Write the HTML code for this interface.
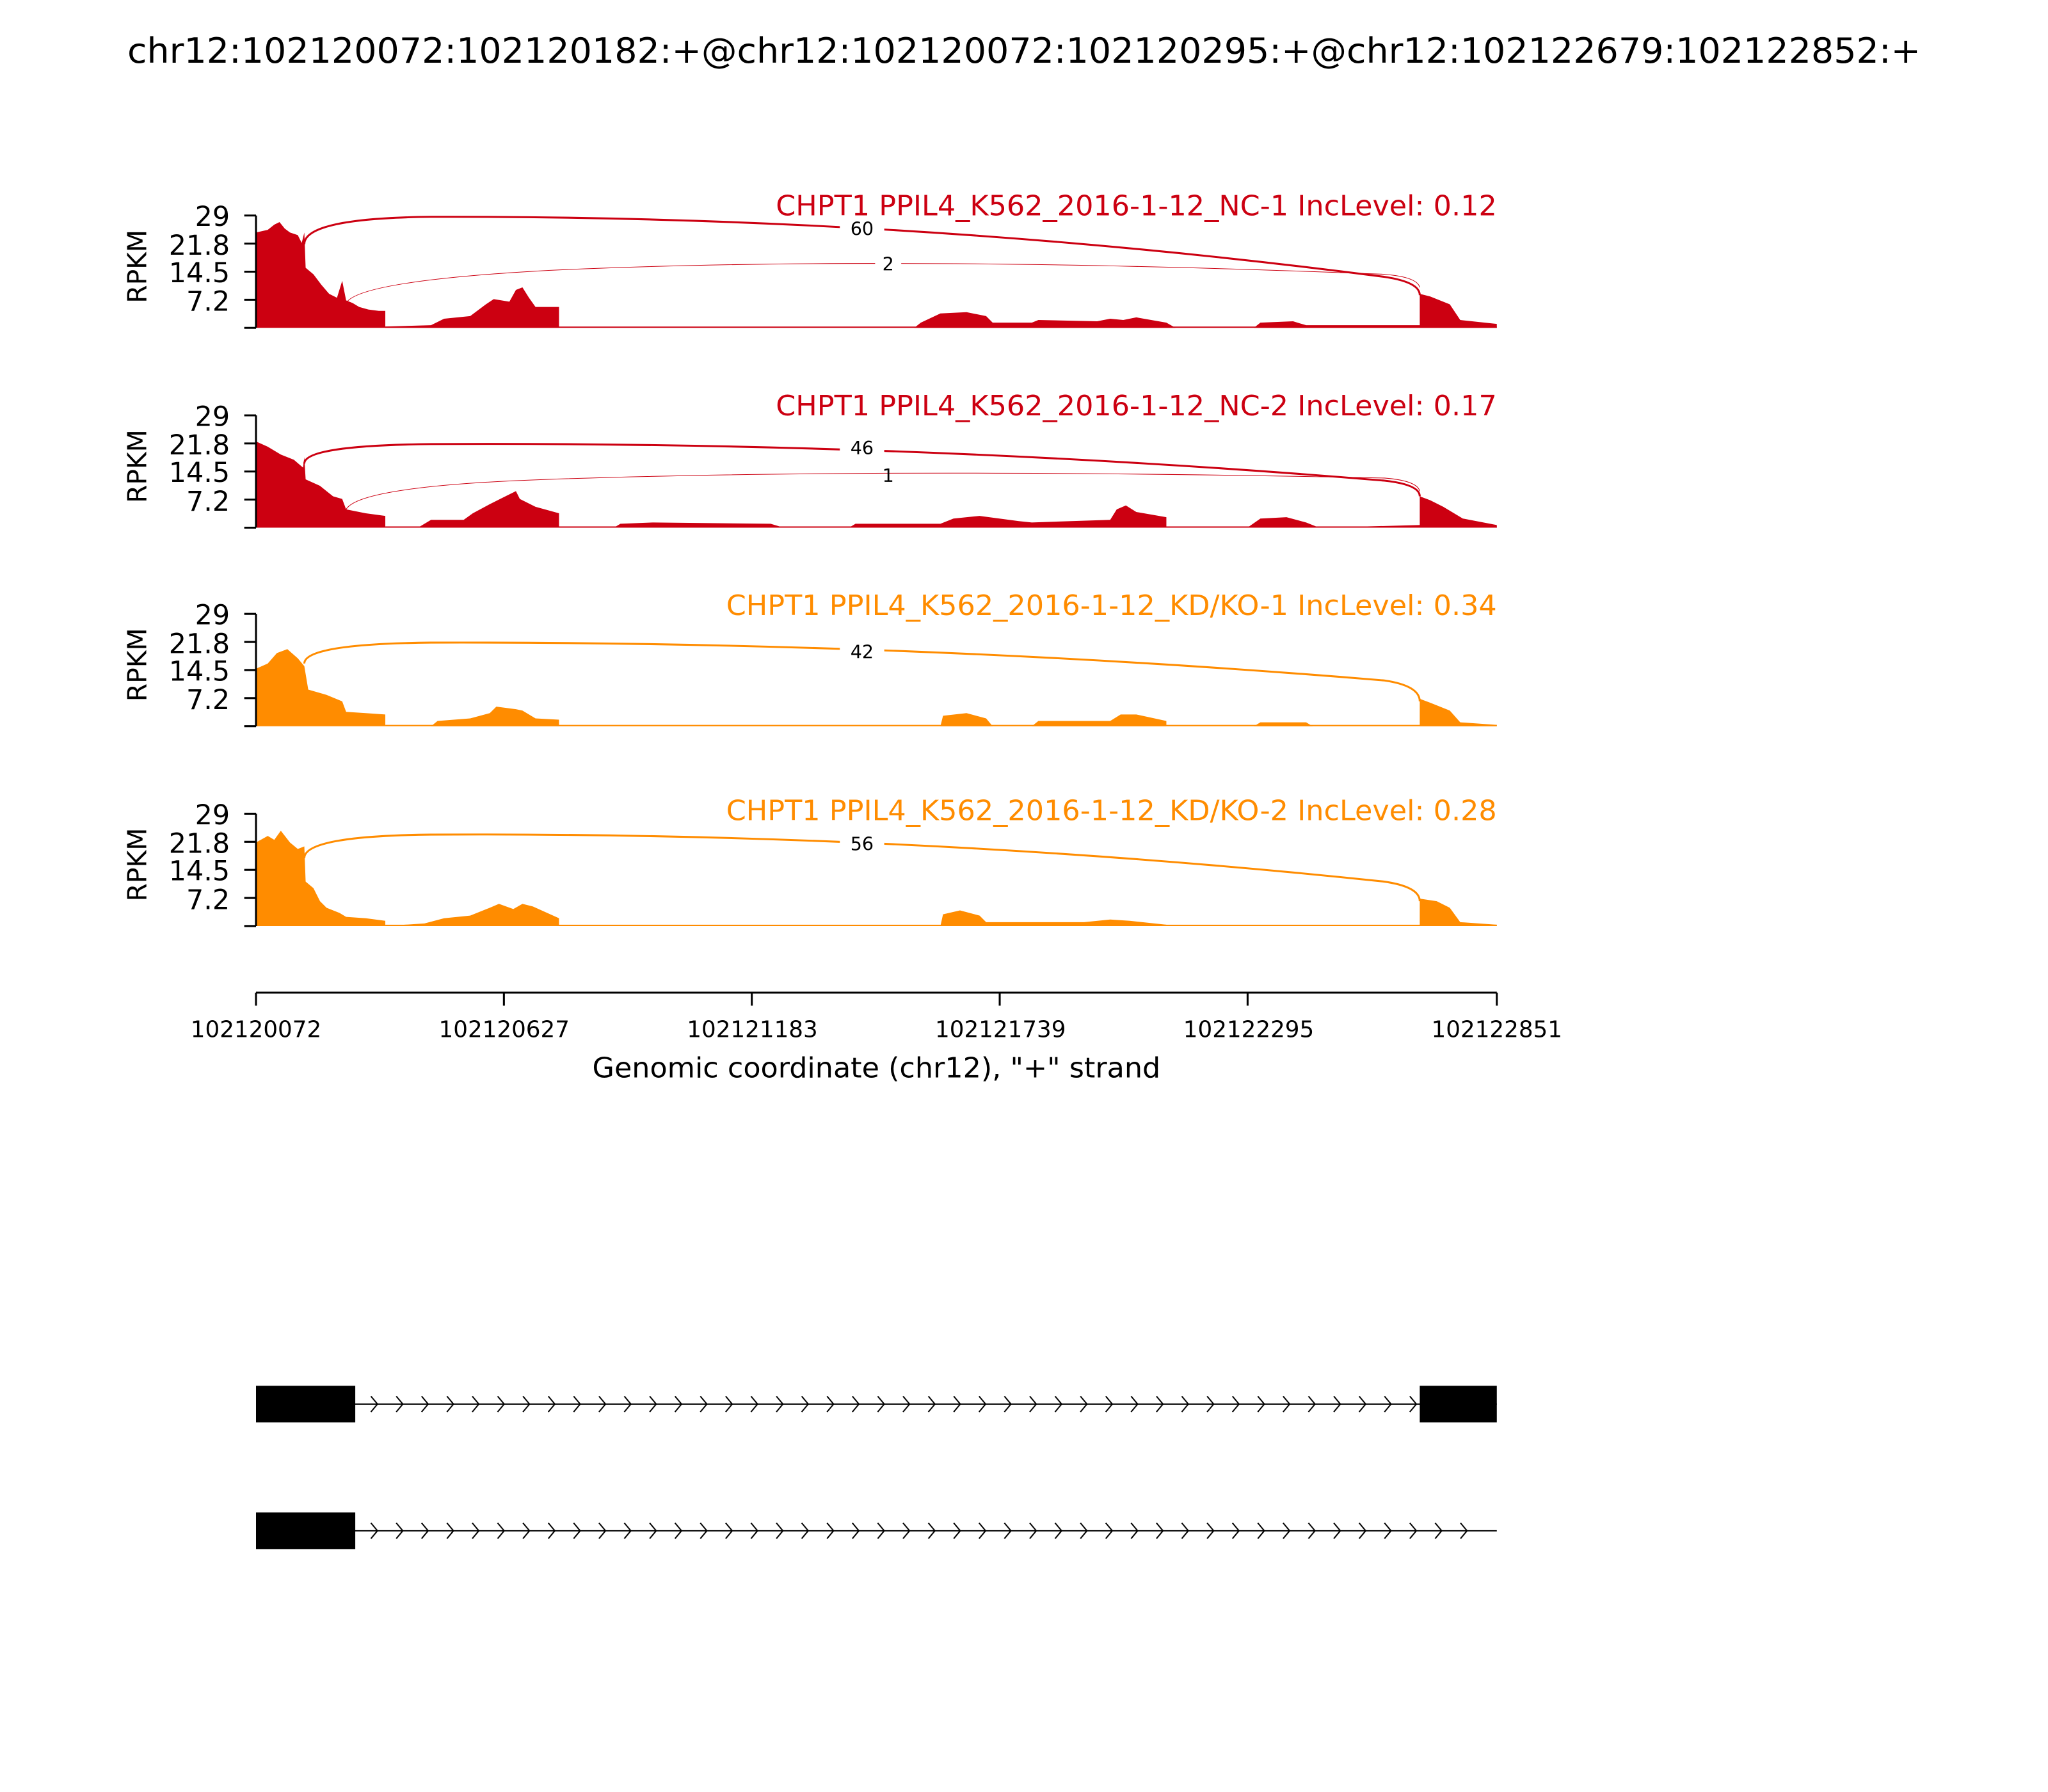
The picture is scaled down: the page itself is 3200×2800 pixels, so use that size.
<!DOCTYPE html>
<html><head><meta charset="utf-8"><style>html,body{margin:0;padding:0;background:#fff}svg{display:block}text{font-family:"DejaVu Sans","Liberation Sans",sans-serif}</style></head>
<body>
<svg width="3200" height="2800" viewBox="0 0 1568 1372" xmlns="http://www.w3.org/2000/svg">
<defs>
<pattern id="chev" x="280" y="0" width="19.4" height="1372" patternUnits="userSpaceOnUse">
<path d="M4,1069 L9,1075 L4,1081 M4,1166 L9,1172 L4,1178" stroke="#000" stroke-width="1" fill="none"/>
</pattern>
</defs>
<text x="784" y="48" font-size="26.5" text-anchor="middle" textLength="1373" lengthAdjust="spacingAndGlyphs">chr12:102120072:102120182:+@chr12:102120072:102120295:+@chr12:102122679:102122852:+</text>

<!-- Panel 1 -->
<g>
<polygon fill="#CC0011" points="196,251 196,178 205,176 210,172 214,170 218,175 222,178 228,180 231,186 233,178 234,205 240,210 246,218 252,225 258,228 262,215 265,230 270,232 275,235 282,237 290,238 295,238 295,250 330,249 340,244 360,242 372,233 378,229 390,231 395,222 400,220 405,228 410,235 428,235 428,251 700,251 705,247 720,240 740,239 755,242 760,247 790,247 795,245 840,246 850,244 860,245 870,243 893,247 900,251 960,251 965,247 990,246 1000,249 1087,249 1087,225 1095,227 1110,233 1118,245 1146,248 1146,251"/>
<line x1="295" y1="250.5" x2="1146" y2="250.5" stroke="#CC0011" stroke-width="1"/>
<path d="M233,187 Q233,167 330,166 Q700,165 1060,212 Q1087,216 1087,226" stroke="#CC0011" stroke-width="1.5" fill="none"/>
<path d="M265,232 Q275,215 420,207 Q680,195 1060,210 Q1085,212 1087,220" stroke="#CC0011" stroke-width="0.5" fill="none"/>
<rect x="643" y="166" width="34" height="17" fill="#fff"/><text x="660" y="180" font-size="14" text-anchor="middle">60</text>
<rect x="670" y="194" width="20" height="15" fill="#fff"/><text x="680" y="207" font-size="14" text-anchor="middle">2</text>
<text x="1146" y="165" font-size="21.5" fill="#CC0011" text-anchor="end" textLength="552" lengthAdjust="spacingAndGlyphs">CHPT1 PPIL4_K562_2016-1-12_NC-1 IncLevel: 0.12</text>
<path d="M196,165 V251 M187,165 H196 M187,186.5 H196 M187,208 H196 M187,229.5 H196 M187,251 H196" stroke="#000" stroke-width="1.5" fill="none"/>
<g font-size="21" text-anchor="end"><text x="176" y="173">29</text><text x="176" y="195">21.8</text><text x="176" y="216">14.5</text><text x="176" y="238">7.2</text></g>
<text transform="translate(112,204) rotate(-90)" font-size="20" text-anchor="middle">RPKM</text>
</g>

<!-- Panel 2 -->
<g>
<polygon fill="#CC0011" points="196,404 196,338 205,342 215,348 225,352 232,358 233,350 234,367 245,372 255,380 262,382 265,390 280,393 295,395 295,404 320,404 330,398 355,398 362,393 375,386 385,381 395,376 398,382 410,388 428,393 428,404 470,404 475,401 500,400 590,401 600,404 650,404 655,401 720,401 730,397 750,395 780,399 790,400 850,398 855,390 862,387 870,392 893,396 893,404 955,404 965,397 985,396 1000,400 1010,404 1087,402 1087,380 1095,383 1105,388 1120,397 1146,402 1146,404"/>
<line x1="295" y1="403.5" x2="1146" y2="403.5" stroke="#CC0011" stroke-width="1"/>
<path d="M233,355 Q233,341 330,340 Q700,338 1060,368 Q1087,371 1087,380" stroke="#CC0011" stroke-width="1.5" fill="none"/>
<path d="M265,390 Q275,372 420,367 Q680,358 1060,366 Q1085,368 1087,376" stroke="#CC0011" stroke-width="0.5" fill="none"/>
<rect x="643" y="334" width="34" height="17" fill="#fff"/><text x="660" y="348" font-size="14" text-anchor="middle">46</text>
<text x="680" y="369" font-size="14" text-anchor="middle">1</text>
<text x="1146" y="318" font-size="21.5" fill="#CC0011" text-anchor="end" textLength="552" lengthAdjust="spacingAndGlyphs">CHPT1 PPIL4_K562_2016-1-12_NC-2 IncLevel: 0.17</text>
<path d="M196,318 V404 M187,318 H196 M187,339.5 H196 M187,361 H196 M187,382.5 H196 M187,404 H196" stroke="#000" stroke-width="1.5" fill="none"/>
<g font-size="21" text-anchor="end"><text x="176" y="326">29</text><text x="176" y="348">21.8</text><text x="176" y="369">14.5</text><text x="176" y="391">7.2</text></g>
<text transform="translate(112,357) rotate(-90)" font-size="20" text-anchor="middle">RPKM</text>
</g>

<!-- Panel 3 -->
<g>
<polygon fill="#FF8C00" points="196,556 196,512 205,508 212,500 220,497 228,504 233,510 236,528 250,532 262,537 265,545 280,546 295,547 295,556 330,556 335,552 360,550 375,546 380,541 395,543 400,544 410,550 428,551 428,556 720,556 722,548 740,546 755,550 760,556 790,556 795,552 850,552 858,547 870,547 893,552 893,556 960,556 965,553 1000,553 1005,556 1087,556 1087,535 1095,538 1110,544 1118,553 1146,555 1146,556"/>
<line x1="295" y1="555.5" x2="1146" y2="555.5" stroke="#FF8C00" stroke-width="1"/>
<path d="M233,508 Q233,493 330,492 Q700,491 1060,521 Q1087,525 1087,537" stroke="#FF8C00" stroke-width="1.5" fill="none"/>
<rect x="643" y="490" width="34" height="17" fill="#fff"/><text x="660" y="504" font-size="14" text-anchor="middle">42</text>
<text x="1146" y="471" font-size="21.5" fill="#FF8C00" text-anchor="end" textLength="590" lengthAdjust="spacingAndGlyphs">CHPT1 PPIL4_K562_2016-1-12_KD/KO-1 IncLevel: 0.34</text>
<path d="M196,470 V556 M187,470 H196 M187,491.5 H196 M187,513 H196 M187,534.5 H196 M187,556 H196" stroke="#000" stroke-width="1.5" fill="none"/>
<g font-size="21" text-anchor="end"><text x="176" y="478">29</text><text x="176" y="500">21.8</text><text x="176" y="521">14.5</text><text x="176" y="543">7.2</text></g>
<text transform="translate(112,509) rotate(-90)" font-size="20" text-anchor="middle">RPKM</text>
</g>

<!-- Panel 4 -->
<g>
<polygon fill="#FF8C00" points="196,709 196,645 205,640 210,643 215,636 222,645 228,650 233,648 234,675 240,680 245,690 250,695 260,699 265,702 280,703 295,705 295,709 325,707 340,703 360,701 375,695 382,692 393,696 400,692 408,694 428,703 428,709 720,709 722,700 735,697 750,701 755,706 790,706 830,706 850,704 865,705 893,708 893,709 1087,709 1087,688 1100,690 1110,695 1118,706 1146,708 1146,709"/>
<line x1="295" y1="708.5" x2="1146" y2="708.5" stroke="#FF8C00" stroke-width="1"/>
<path d="M233,657 Q233,640 330,639 Q700,637 1060,675 Q1087,679 1087,690" stroke="#FF8C00" stroke-width="1.5" fill="none"/>
<rect x="643" y="637" width="34" height="17" fill="#fff"/><text x="660" y="651" font-size="14" text-anchor="middle">56</text>
<text x="1146" y="628" font-size="21.5" fill="#FF8C00" text-anchor="end" textLength="590" lengthAdjust="spacingAndGlyphs">CHPT1 PPIL4_K562_2016-1-12_KD/KO-2 IncLevel: 0.28</text>
<path d="M196,623 V709 M187,623 H196 M187,644.5 H196 M187,666 H196 M187,687.5 H196 M187,709 H196" stroke="#000" stroke-width="1.5" fill="none"/>
<g font-size="21" text-anchor="end"><text x="176" y="631">29</text><text x="176" y="653">21.8</text><text x="176" y="674">14.5</text><text x="176" y="696">7.2</text></g>
<text transform="translate(112,662) rotate(-90)" font-size="20" text-anchor="middle">RPKM</text>
</g>

<!-- X axis -->
<path d="M196,760 H1146 M196,760 V770 M385.8,760 V770 M575.6,760 V770 M765.4,760 V770 M955.2,760 V770 M1146,760 V770" stroke="#000" stroke-width="1.5" fill="none"/>
<g font-size="17.5" text-anchor="middle"><text x="196" y="794">102120072</text><text x="386" y="794">102120627</text><text x="576" y="794">102121183</text><text x="766" y="794">102121739</text><text x="956" y="794">102122295</text><text x="1146" y="794">102122851</text></g>
<text x="671" y="825" font-size="21.5" text-anchor="middle" textLength="435" lengthAdjust="spacingAndGlyphs">Genomic coordinate (chr12), "+" strand</text>

<!-- Gene tracks -->
<line x1="196" y1="1075" x2="1146" y2="1075" stroke="#000" stroke-width="1"/>
<rect x="280" y="1065" width="818" height="20" fill="url(#chev)"/>
<rect x="196" y="1061" width="76" height="28" fill="#000"/>
<rect x="1087" y="1061" width="59" height="28" fill="#000"/>
<line x1="196" y1="1172" x2="1146" y2="1172" stroke="#000" stroke-width="1"/>
<rect x="280" y="1162" width="855" height="20" fill="url(#chev)"/>
<rect x="196" y="1158" width="76" height="28" fill="#000"/>
</svg>
</body></html>
